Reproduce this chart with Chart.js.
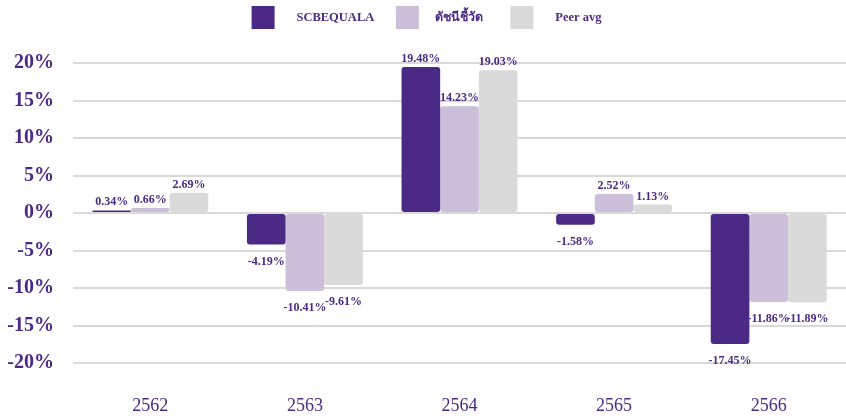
<!DOCTYPE html>
<html>
<head>
<meta charset="utf-8">
<script src="https://cdn.jsdelivr.net/npm/chart.js@4"></script>
<style>
  html, body { margin: 0; padding: 0; background: #fff; }
  #wrap { width: 846px; height: 419px; position: relative; }
</style>
</head>
<body>
<div id="wrap"><canvas id="barChart"></canvas></div>
<script>
// Data
const years = ["2562", "2563", "2564", "2565", "2566"];
const fundValues = [0.34, -4.19, 19.48, -1.58, -17.45];
const benchmarkValues = [0.66, -10.41, 14.23, 2.52, -11.86];
const peerValues = [2.69, -9.61, 19.03, 1.13, -11.89];
const seriesNames = ["SCBEQUALA", "ดัชนีชี้วัด", "Peer avg"];
const yTicks = [-20, -15, -10, -5, 0, 5, 10, 15, 20];

const PURPLE = "#4b2a85";
const SERIF = "'Liberation Serif', 'Times New Roman', serif";

/* ---------------------------
   Value labels on bars
---------------------------- */
const valueLabels = {
    id: "valueLabels",
    afterDatasetsDraw(chart) {
        const ctx = chart.ctx;
        ctx.save();
        ctx.font = "bold 12px " + SERIF;
        ctx.fillStyle = PURPLE;
        ctx.textAlign = "center";
        chart.data.datasets.forEach((ds, i) => {
            const meta = chart.getDatasetMeta(i);
            meta.data.forEach((bar, j) => {
                const v = ds.data[j];
                const txt = v.toFixed(2) + "%";
                if (v >= 0) {
                    ctx.textBaseline = "alphabetic";
                    ctx.fillText(txt, bar.x, bar.y - 5);
                } else {
                    ctx.textBaseline = "top";
                    ctx.fillText(txt, bar.x, bar.y + 11);
                }
            });
        });
        ctx.restore();
    }
};

/* ---------------------------
   Extra room under the legend
---------------------------- */
const legendGap = {
    id: "legendGap",
    beforeInit(chart) {
        const fit = chart.legend.fit;
        chart.legend.fit = function () {
            fit.bind(chart.legend)();
            this.height += 24;
        };
    }
};

const ctx = document.getElementById("barChart").getContext("2d");

new Chart(ctx, {
    type: "bar",
    data: {
        labels: years,
        datasets: [
            { label: seriesNames[0], data: fundValues, backgroundColor: PURPLE },
            { label: seriesNames[1], data: benchmarkValues, backgroundColor: "#cbbfd9" },
            { label: seriesNames[2], data: peerValues, backgroundColor: "#dadada" }
        ].map(d => Object.assign(d, {
            borderRadius: 3,
            borderSkipped: false,
            categoryPercentage: 0.75,
            barPercentage: 1.0
        }))
    },
    options: {
        responsive: true,
        maintainAspectRatio: false,
        animation: false,
        layout: { padding: { top: 0, right: -6, left: 1, bottom: 0 } },
        scales: {
            x: {
                grid: { display: false },
                border: { display: false },
                afterFit: axis => { axis.height = 56; },
                ticks: {
                    color: PURPLE,
                    padding: 24,
                    font: { family: SERIF, size: 18 }
                }
            },
            y: {
                min: -20,
                max: 20,
                afterBuildTicks: axis => {
                    axis.ticks = yTicks.map(v => ({ value: v }));
                },
                afterFit: axis => { axis.width = 72; },
                grid: { color: "#d9d9d9", lineWidth: 2, drawTicks: false },
                border: { display: false },
                ticks: {
                    color: PURPLE,
                    padding: 19,
                    font: { family: SERIF, size: 20, weight: "bold" },
                    callback: v => v + "%"
                }
            }
        },
        plugins: {
            legend: {
                position: "top",
                labels: {
                    color: PURPLE,
                    boxWidth: 23,
                    boxHeight: 23,
                    padding: 6,
                    font: { family: SERIF + ", 'Noto Sans'", size: 12.5, weight: "bold" },
                    generateLabels: chart => {
                        const items = Chart.defaults.plugins.legend.labels.generateLabels(chart);
                        const lead = [5, 3, 5];
                        const tail = [5, 7, 0];
                        items.forEach((it, i) => {
                            it.text = " ".repeat(lead[i]) + it.text + " ".repeat(tail[i]);
                        });
                        return items;
                    }
                }
            },
            tooltip: { enabled: false }
        }
    },
    plugins: [valueLabels, legendGap]
});
</script>
</body>
</html>
